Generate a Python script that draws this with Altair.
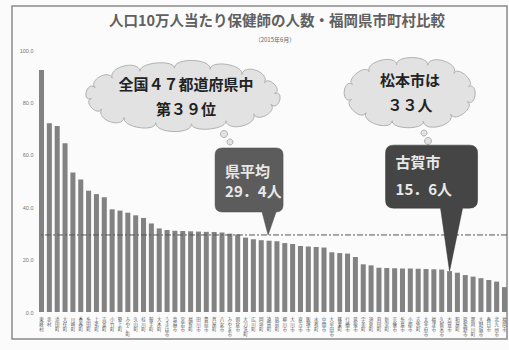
import math
import altair as alt
import pandas as pd

# ---------------- data ----------------
names = ["東峰村", "赤村", "添田町", "大任町", "川崎町", "香春町", "糸田町", "上毛町", "吉富町", "小竹町",
         "築上町", "みやこ町", "久山町", "桂川町", "鞍手町", "大木町", "うきは市", "嘉麻市", "宮若市", "福智町",
         "田川市", "豊前市", "芦屋町", "八女市", "みやま市", "朝倉市", "大刀洗町", "広川町", "岡垣町", "遠賀町",
         "筑前町", "柳川市", "大川市", "直方市", "飯塚市", "水巻町", "中間市", "大牟田市", "篠栗町", "行橋市",
         "筑後市", "宇美町", "須恵町", "苅田町", "新宮町", "宗像市", "糸島市", "小郡市", "志免町", "太宰府市",
         "福津市", "久留米市", "古賀市", "粕屋町", "筑紫野市", "那珂川町", "大野城市", "春日市", "北九州市", "福岡市"]
values = [92.4, 72.0, 71.0, 64.4, 53.2, 50.6, 46.3, 45.0, 43.8, 39.2,
          38.7, 37.9, 36.9, 35.9, 33.8, 31.9, 31.3, 31.0, 30.9, 30.8,
          30.7, 30.6, 30.5, 30.3, 29.9, 29.6, 28.4, 27.8, 27.4, 27.2,
          27.0, 26.3, 26.0, 25.2, 25.0, 24.8, 24.6, 22.8, 22.5, 22.3,
          21.0, 18.2, 17.8, 16.9, 16.8, 16.7, 16.6, 16.6, 16.5, 16.4,
          16.3, 16.2, 15.6, 15.0, 14.1, 13.5, 12.9, 12.2, 11.6, 9.5]
pref_avg = 29.4
avg_anchor = "遠賀町"
koga_name = "古賀市"
y_ticks = list(range(0, 101, 10))

title_text = "人口10万人当たり保健師の人数・福岡県市町村比較"
subtitle_text = "（2015年6月）"
cloud1_lines = ["全国４７都道府県中", "第３９位"]
cloud2_lines = ["松本市は", "３３人"]
avg_lines = ["県平均", "29．4人"]
koga_lines = ["古賀市", "15．6人"]

JP = "Noto Sans CJK JP"

# ---------------- shape helpers ----------------
R = 100.0
SIZE = (2 * R) ** 2


def fmt(x, y):
    return f"{x / R:.4f},{y / R:.4f}"


def circle_path(cx, cy, r):
    k = 0.5523 * r
    return ("M" + fmt(cx + r, cy)
            + "C" + fmt(cx + r, cy + k) + " " + fmt(cx + k, cy + r) + " " + fmt(cx, cy + r)
            + "C" + fmt(cx - k, cy + r) + " " + fmt(cx - r, cy + k) + " " + fmt(cx - r, cy)
            + "C" + fmt(cx - r, cy - k) + " " + fmt(cx - k, cy - r) + " " + fmt(cx, cy - r)
            + "C" + fmt(cx + k, cy - r) + " " + fmt(cx + r, cy - k) + " " + fmt(cx + r, cy) + "Z")


def cloud_path(a, b, hs, n, bubbles, phase=0.3):
    pts = []
    for i in range(n):
        t = phase + 2 * math.pi * i / n
        x, y = a * math.cos(t), b * math.sin(t)
        nx, ny = math.cos(t) / a, math.sin(t) / b
        L = math.hypot(nx, ny)
        pts.append((x, y, nx / L, ny / L))
    d = "M" + fmt(pts[0][0], pts[0][1])
    for i in range(n):
        x1, y1, nx1, ny1 = pts[i]
        x2, y2, nx2, ny2 = pts[(i + 1) % n]
        h = hs[i % len(hs)]
        d += ("C" + fmt(x1 + nx1 * h, y1 + ny1 * h) + " "
              + fmt(x2 + nx2 * h, y2 + ny2 * h) + " " + fmt(x2, y2))
    d += "Z"
    for cx, cy, r in bubbles:
        d += circle_path(cx, cy, r)
    return d


def box_path(x0, y0, x1, y1, r, bl, br, tx, ty):
    return ("M" + fmt(x0 + r, y0) + "L" + fmt(x1 - r, y0)
            + "Q" + fmt(x1, y0) + " " + fmt(x1, y0 + r)
            + "L" + fmt(x1, y1 - r)
            + "Q" + fmt(x1, y1) + " " + fmt(x1 - r, y1)
            + "L" + fmt(br, y1) + "L" + fmt(tx, ty) + "L" + fmt(bl, y1)
            + "L" + fmt(x0 + r, y1)
            + "Q" + fmt(x0, y1) + " " + fmt(x0, y1 - r)
            + "L" + fmt(x0, y0 + r)
            + "Q" + fmt(x0, y0) + " " + fmt(x0 + r, y0) + "Z")


cloud1_shape = cloud_path(92, 28, [10, 12, 9, 11], 16, [(41, 38, 3.5), (47, 46, 3.0)])
cloud2_shape = cloud_path(60, 29, [10, 12, 9, 11], 12, [(14, 40, 3.0), (18, 48, 3.5)])
avg_shape = box_path(-54, -87, 14, -23, 7, -7, 7, -1, 0)
koga_shape = box_path(-64, -126, 28, -63, 8, -9, 13, 0, 0)

# ---------------- chart ----------------
df = pd.DataFrame({"name": names, "value": values})
one = pd.DataFrame({"k": [0]})

x_enc = alt.X("name:N", sort=None,
              scale=alt.Scale(domain=names, paddingInner=0.36, paddingOuter=0),
              axis=alt.Axis(title=None, labelAngle=0, labelExpr="split(datum.label, '')",
                            labelFont=JP, labelFontSize=4.5, labelLineHeight=5,
                            labelColor="#555555", labelOverlap=False, labelBound=False,
                            ticks=False, domain=False, labelPadding=4))
y_enc = alt.Y("value:Q",
              scale=alt.Scale(domain=[0, 100], nice=False),
              axis=alt.Axis(title=None, values=y_ticks, format=".1f", labelFontSize=5.5,
                            labelColor="#777777", ticks=False, domain=False, grid=False,
                            labelPadding=6))

base = alt.Chart(df)

frame = alt.Chart(one).mark_rect(fill="transparent", stroke="#8a8a8a", strokeWidth=1.5).encode(
    x=alt.value(-27), x2=alt.value(468), y=alt.value(-44), y2=alt.value(289))

bars = base.mark_bar(color="#828282").encode(x=x_enc, y=y_enc)

avg_rule = alt.Chart(one).mark_rule(color="#555555", strokeWidth=1, strokeDash=[6, 2, 2, 2]).encode(
    y=alt.datum(pref_avg))

cloud1 = alt.Chart(one).mark_point(shape=cloud1_shape, size=SIZE, filled=True, fill="#e2e2e2",
                                   stroke="#b0b0b0", strokeWidth=1, opacity=1).encode(
    x=alt.value(144), y=alt.value(46))
cloud2 = alt.Chart(one).mark_point(shape=cloud2_shape, size=SIZE, filled=True, fill="#e2e2e2",
                                   stroke="#b0b0b0", strokeWidth=1, opacity=1).encode(
    x=alt.value(371), y=alt.value(43))

avg_box = base.transform_filter(alt.datum.name == avg_anchor).mark_point(
    shape=avg_shape, size=SIZE, filled=True, fill="#5c5c5c", stroke="#4a4a4a", strokeWidth=0.5,
    opacity=1).encode(x=x_enc, y=alt.datum(pref_avg))
koga_box = base.transform_filter(alt.datum.name == koga_name).mark_point(
    shape=koga_shape, size=SIZE, filled=True, fill="#454545", stroke="#333333", strokeWidth=0.5,
    opacity=1).encode(x=x_enc, y=y_enc)


def plain_text(line, x, y, size, color, weight="bold"):
    return alt.Chart(one).mark_text(text=line, font=JP, fontSize=size, fontWeight=weight,
                                    color=color, align="center", baseline="middle").encode(
        x=alt.value(x), y=alt.value(y))


def box_text(src, line, dx, dy, y):
    return src.mark_text(text=line, font=JP, fontSize=15, fontWeight="bold", color="#e8e8e8",
                         align="left", baseline="middle", dx=dx, dy=dy).encode(x=x_enc, y=y)


avg_src = base.transform_filter(alt.datum.name == avg_anchor)
koga_src = base.transform_filter(alt.datum.name == koga_name)

texts = [
    plain_text(title_text, 238, -28, 14.5, "#606060"),
    plain_text(subtitle_text, 236, -10, 6, "#666666", "normal"),
    plain_text(cloud1_lines[0], 147, 35, 15, "#222222"),
    plain_text(cloud1_lines[1], 147, 60, 15, "#222222"),
    plain_text(cloud2_lines[0], 371, 31, 15, "#222222"),
    plain_text(cloud2_lines[1], 371, 56, 15, "#222222"),
    box_text(avg_src, avg_lines[0], -44, -63, alt.datum(pref_avg)),
    box_text(avg_src, avg_lines[1], -44, -43, alt.datum(pref_avg)),
    box_text(koga_src, koga_lines[0], -54, -108, y_enc),
    box_text(koga_src, koga_lines[1], -54, -81, y_enc),
]

chart = alt.layer(frame, bars, avg_rule, cloud1, cloud2, avg_box, koga_box, *texts).properties(
    width=468, height=262,
    autosize=alt.AutoSizeParams(type="none"),
    padding={"left": 39, "top": 50, "right": 2, "bottom": 38},
    background="#fbfbfb",
).configure_view(stroke=None)

chart.save("out.html", embed_options={"renderer": "svg", "actions": False})
